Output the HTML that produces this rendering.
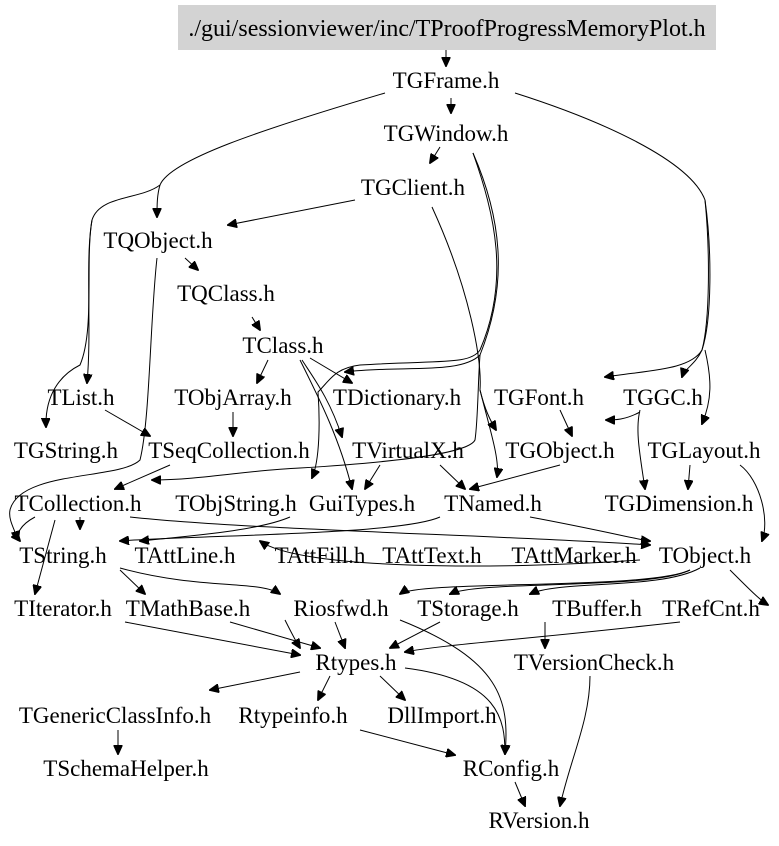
<!DOCTYPE html>
<html><head><meta charset="utf-8"><style>
html,body{margin:0;padding:0;background:#fff;width:779px;height:846px;overflow:hidden}
svg text{font-family:"Liberation Serif",serif;font-size:23px;fill:#000;text-anchor:middle}
path{fill:none;stroke:#000;stroke-width:1}
</style></head><body>
<svg width="779" height="846" viewBox="0 0 779 846" xmlns="http://www.w3.org/2000/svg">
<defs><marker id="a" markerWidth="10" markerHeight="9" refX="9" refY="4.5" orient="auto" markerUnits="userSpaceOnUse"><path d="M0,0 L10,4.5 L0,9 Z" style="fill:#000;stroke:#000"/></marker></defs>
<rect x="178" y="5" width="538" height="45" fill="#d3d3d3"/>
<g marker-end="url(#a)">
<path d="M446,50 L446,66"/>
<path d="M451,98 L451,113"/>
<path d="M385,93 C260,130 170,160 160,185 C157,195 157,205 157,217"/>
<path d="M160,185 C140,200 100,195 92,220 C85,260 92,330 87,383"/>
<path d="M92,220 C85,260 95,330 80,365 C60,375 45,395 46,427"/>
<path d="M515,93 C600,120 690,160 705,200 C710,250 710,320 702,350 C690,370 650,370 605,377"/>
<path d="M705,200 C712,250 712,320 702,350 C695,365 685,368 682,377"/>
<path d="M705,350 C712,380 712,400 702,424"/>
<path d="M440,147 L430,163"/>
<path d="M355,200 L228,225"/>
<path d="M473,153 C495,215 510,280 480,350 C470,365 440,360 360,365 C335,368 330,380 318,392 C320,420 320,460 312,478"/>
<path d="M473,153 C500,215 510,280 480,355 C460,375 400,365 345,372"/>
<path d="M480,355 C478,380 478,420 475,440 C470,450 430,460 300,468 C250,470 200,480 152,480"/>
<path d="M432,207 C470,290 482,360 480,390 C485,410 490,420 496,430"/>
<path d="M480,390 C490,430 500,460 497,477"/>
<path d="M185,258 L198,270"/>
<path d="M157,258 C150,320 150,420 140,460 C120,480 20,470 10,510 C8,520 15,530 18,540"/>
<path d="M252,317 L260,330"/>
<path d="M268,360 L257,383"/>
<path d="M310,358 L352,383"/>
<path d="M302,360 C315,380 330,400 342,437"/>
<path d="M300,360 C320,400 340,440 352,489"/>
<path d="M233,412 L233,436"/>
<path d="M105,410 L150,436"/>
<path d="M560,410 L572,436"/>
<path d="M640,412 C625,420 615,420 606,420"/>
<path d="M640,410 C635,430 640,455 645,489"/>
<path d="M690,465 L688,489"/>
<path d="M740,465 C760,480 770,520 762,541"/>
<path d="M170,465 L115,489"/>
<path d="M380,465 L365,489"/>
<path d="M440,465 L465,489"/>
<path d="M560,465 L470,489"/>
<path d="M35,517 C20,525 15,535 20,541"/>
<path d="M80,517 L80,529"/>
<path d="M55,520 L35,594"/>
<path d="M440,517 C400,535 200,535 120,541"/>
<path d="M290,517 C260,530 200,535 140,541"/>
<path d="M130,517 C250,530 500,535 650,545"/>
<path d="M530,517 C600,530 640,540 650,541"/>
<path d="M640,560 C500,570 300,570 260,541"/>
<path d="M700,568 C660,590 560,580 530,594"/>
<path d="M690,570 C650,590 480,580 450,594"/>
<path d="M690,570 C650,590 420,580 400,594"/>
<path d="M730,570 C750,590 760,600 768,605"/>
<path d="M120,568 C200,590 260,580 280,594"/>
<path d="M120,570 L145,594"/>
<path d="M125,622 L300,655"/>
<path d="M230,622 L320,648"/>
<path d="M285,620 C290,630 295,640 300,648"/>
<path d="M335,622 L345,648"/>
<path d="M440,622 L390,648"/>
<path d="M680,622 C520,640 440,645 405,652"/>
<path d="M545,622 L545,648"/>
<path d="M300,672 L210,690"/>
<path d="M330,676 L318,700"/>
<path d="M380,676 L405,700"/>
<path d="M405,668 C500,680 505,720 505,754"/>
<path d="M400,620 C500,660 510,700 505,754"/>
<path d="M360,730 L455,755"/>
<path d="M118,730 L118,754"/>
<path d="M590,676 C590,720 570,760 560,806"/>
<path d="M515,782 L525,806"/>
</g>
<text x="447" y="36" style="font-size:24px">./gui/sessionviewer/inc/TProofProgressMemoryPlot.h</text>
<text x="446" y="88">TGFrame.h</text>
<text x="446" y="141">TGWindow.h</text>
<text x="413" y="195">TGClient.h</text>
<text x="158" y="248">TQObject.h</text>
<text x="226" y="301">TQClass.h</text>
<text x="283" y="353">TClass.h</text>
<text x="81" y="405">TList.h</text>
<text x="233" y="405">TObjArray.h</text>
<text x="397" y="405">TDictionary.h</text>
<text x="539" y="405">TGFont.h</text>
<text x="663" y="405">TGGC.h</text>
<text x="66" y="458">TGString.h</text>
<text x="229" y="458">TSeqCollection.h</text>
<text x="408" y="458">TVirtualX.h</text>
<text x="560" y="458">TGObject.h</text>
<text x="704" y="458">TGLayout.h</text>
<text x="78" y="511">TCollection.h</text>
<text x="236" y="511">TObjString.h</text>
<text x="362" y="511">GuiTypes.h</text>
<text x="493" y="511">TNamed.h</text>
<text x="679" y="511">TGDimension.h</text>
<text x="63" y="563">TString.h</text>
<text x="185" y="563">TAttLine.h</text>
<text x="320" y="563">TAttFill.h</text>
<text x="432" y="563">TAttText.h</text>
<text x="574" y="563">TAttMarker.h</text>
<text x="705" y="563">TObject.h</text>
<text x="63" y="616">TIterator.h</text>
<text x="188" y="616">TMathBase.h</text>
<text x="341" y="616">Riosfwd.h</text>
<text x="468" y="616">TStorage.h</text>
<text x="597" y="616">TBuffer.h</text>
<text x="711" y="616">TRefCnt.h</text>
<text x="356" y="670">Rtypes.h</text>
<text x="594" y="670">TVersionCheck.h</text>
<text x="115" y="723">TGenericClassInfo.h</text>
<text x="293" y="723">Rtypeinfo.h</text>
<text x="442" y="723">DllImport.h</text>
<text x="126" y="776">TSchemaHelper.h</text>
<text x="511" y="776">RConfig.h</text>
<text x="539" y="828">RVersion.h</text>
</svg>
</body></html>
